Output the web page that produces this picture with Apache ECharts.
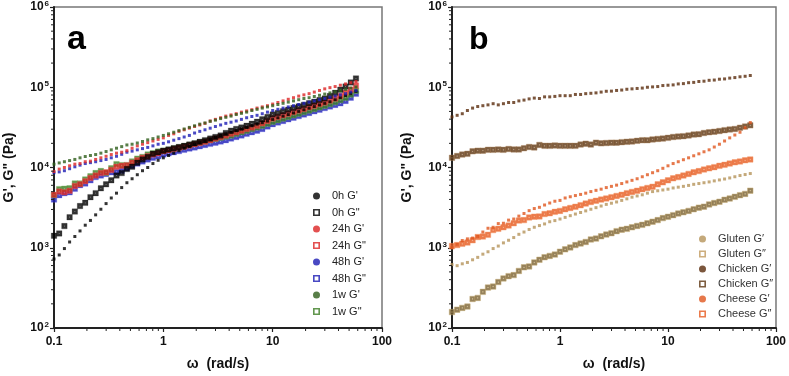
<!DOCTYPE html>
<html>
<head>
<meta charset="utf-8">
<script src="https://cdn.jsdelivr.net/npm/echarts@6/dist/echarts.min.js"></script>
<style>
  html, body { margin: 0; padding: 0; background: #fff; }
  #chart { width: 789px; height: 376px; }
</style>
</head>
<body>
<div id="chart"></div>
<script>
// angular frequency ω (rad/s), 21 points per decade
const omega = [
  0.1, 0.1116, 0.1245, 0.1389, 0.1551, 0.1730, 0.1931, 0.2154, 0.2404, 0.2683,
  0.2994, 0.3341, 0.3728, 0.4160, 0.4642, 0.5179, 0.5780, 0.6449, 0.7197, 0.8031,
  0.8962, 1.0, 1.116, 1.245, 1.389, 1.551, 1.730, 1.931, 2.154, 2.404,
  2.683, 2.994, 3.341, 3.728, 4.160, 4.642, 5.179, 5.780, 6.449, 7.197,
  8.031, 8.962, 10.0, 11.16, 12.45, 13.89, 15.51, 17.30, 19.31, 21.54,
  24.04, 26.83, 29.94, 33.41, 37.28, 41.60, 46.42, 51.79, 57.80
];

// ---- panel a (Pa) ----
const h0Gp = [
  724, 813, 977, 1180, 1380, 1620, 1910, 2190, 2570, 3020,
  3550, 4170, 4790, 5620, 6460, 7240, 8130, 9120, 10000, 11200,
  12300, 13200, 14100, 15100, 16200, 17400, 18200, 19500, 20400, 21400,
  22400, 23700, 25100, 26300, 27500, 28800, 30200, 31600, 33100, 34700,
  36300, 38000, 39800, 41700, 43700, 45700, 47900, 50100, 52500, 55000,
  57500, 60300, 63100, 66100, 70000, 74100, 78500, 83200, 89100
];
const h0Gpp = [
  1410, 1510, 1860, 2400, 2820, 3310, 3630, 4270, 4790, 5500,
  6170, 6920, 7940, 8510, 9550, 10200, 11500, 12600, 13500, 14800,
  15500, 16200, 16800, 17400, 18000, 18600, 19300, 20000, 20900, 21900,
  22900, 24000, 25100, 26900, 28800, 30200, 31600, 33100, 35100, 37200,
  39800, 42700, 45700, 47900, 50100, 52500, 55000, 57500, 60300, 63100,
  66100, 69200, 72400, 77600, 85100, 93300, 102000, 115000, 129000
];
const h24Gp = [
  8910, 9550, 10000, 10500, 11000, 11200, 11800, 12000, 12600, 13200,
  13800, 14500, 15100, 15500, 16200, 17400, 18600, 19500, 20400, 21400,
  22400, 23400, 25100, 26300, 28200, 29500, 30900, 32400, 33900, 35500,
  38000, 39800, 41700, 43700, 45200, 46800, 49000, 50700, 52500, 55000,
  56900, 58900, 61700, 64600, 67600, 70800, 74100, 77600, 80400, 83200,
  87100, 91200, 95500, 98900, 102000, 106000, 110000, 114000, 118000
];
const h24Gpp = [
  4570, 5010, 4900, 5130, 5890, 6170, 6760, 7410, 7940, 8510,
  8710, 9330, 10200, 10500, 10700, 11500, 12300, 13200, 13800, 14500,
  15100, 15900, 16400, 17000, 17600, 18200, 18800, 19500, 20200, 20900,
  21900, 22900, 24000, 25100, 26300, 27500, 28800, 30200, 31600, 33100,
  35500, 38000, 40700, 42700, 44700, 46800, 49000, 51300, 53700, 56200,
  58900, 61700, 64600, 68400, 72400, 77600, 85100, 93300, 105000
];
const h48Gp = [
  8610, 8810, 9120, 9660, 10200, 10700, 11200, 11500, 11800, 12200,
  12600, 13200, 13800, 14600, 15500, 16000, 16600, 17200, 17800, 18600,
  19500, 20000, 20900, 21900, 22900, 24000, 25100, 26900, 28200, 29500,
  30900, 32400, 33900, 35500, 36700, 38000, 39800, 41700, 43200, 44700,
  46800, 49000, 51300, 53100, 55000, 56900, 58900, 61000, 63100, 65300,
  67600, 70000, 72400, 75000, 77600, 80400, 83200, 87100, 91200
];
const h48Gpp = [
  3980, 4520, 4790, 4900, 5430, 6030, 6310, 6920, 7590, 7940,
  8320, 8710, 8810, 9120, 9770, 10500, 11200, 11900, 12600, 13200,
  13800, 14500, 15000, 15500, 16000, 16600, 17200, 17800, 18400, 19100,
  19700, 20400, 21100, 21900, 22900, 24000, 25100, 26300, 27500, 28800,
  30200, 32400, 34700, 36300, 38000, 39800, 41700, 43700, 45700, 47900,
  50100, 52500, 55000, 57500, 60300, 63100, 67600, 74100, 83200
];
const w1Gp = [
  11000, 11400, 11800, 12200, 12600, 13200, 13700, 14100, 14500, 15100,
  15800, 16600, 17400, 18200, 19100, 19500, 20200, 21100, 22100, 22900,
  24000, 25100, 26300, 27500, 28800, 30200, 31600, 33100, 34700, 35900,
  37600, 38900, 40700, 42200, 43700, 45700, 47300, 49000, 51300, 53100,
  55000, 56900, 58900, 61000, 63100, 65300, 67600, 70000, 72400, 74100,
  76700, 79400, 82200, 85100, 88100, 91200, 94400, 97700, 101000
];
const w1Gpp = [
  4520, 5370, 5430, 5500, 6310, 6310, 7080, 7760, 8510, 9020,
  8610, 9770, 11000, 10700, 10700, 11900, 12900, 13500, 14500, 15100,
  15800, 16200, 16600, 17200, 17800, 18400, 19100, 19700, 20400, 21100,
  21900, 22700, 23400, 24300, 25100, 26300, 27500, 28800, 30200, 31600,
  33100, 35100, 37200, 38900, 40700, 42700, 44700, 46800, 49000, 51300,
  53700, 56200, 58900, 61700, 65300, 69200, 74100, 81300, 90200
];

// ---- panel b (Pa) ----
const glutenGp = [
  617, 598, 631, 656, 708, 759, 832, 891, 977, 1050,
  1150, 1240, 1340, 1470, 1570, 1690, 1800, 1890, 1980, 2110,
  2180, 2280, 2390, 2510, 2630, 2750, 2880, 3020, 3160, 3310,
  3470, 3590, 3720, 3890, 4070, 4270, 4420, 4570, 4790, 5010,
  5130, 5250, 5370, 5560, 5690, 5820, 5980, 6170, 6310, 6460,
  6610, 6810, 7000, 7190, 7410, 7670, 7940, 8170, 8410
];
const glutenGpp = [
  158, 169, 178, 185, 230, 237, 282, 319, 328, 374,
  415, 443, 456, 514, 570, 586, 656, 708, 762, 791,
  822, 893, 955, 1010, 1080, 1130, 1180, 1270, 1300, 1390,
  1460, 1520, 1610, 1680, 1720, 1800, 1870, 1930, 2020, 2110,
  2210, 2340, 2430, 2550, 2670, 2770, 2880, 3020, 3160, 3250,
  3470, 3610, 3740, 3960, 4110, 4310, 4520, 4690, 5140
];
const chickenGp = [
  42700, 44700, 46800, 51300, 55000, 57500, 58900, 60300, 62400, 60300,
  62400, 64600, 64600, 67600, 69200, 71600, 73300, 72400, 75900, 75900,
  76900, 78500, 78500, 78500, 81300, 81300, 83200, 84100, 85100, 87100,
  89100, 89500, 91200, 92300, 94400, 95500, 96600, 97700, 100000, 101000,
  102000, 105000, 106000, 107000, 110000, 111000, 114000, 115000, 118000, 119000,
  122000, 123000, 126000, 127000, 130000, 132000, 135000, 137000, 140000
];
const chickenGpp = [
  13200, 13900, 14500, 14800, 15900, 16200, 16200, 16600, 16600, 16800,
  16600, 17000, 16800, 16800, 17400, 18000, 17800, 19100, 18600, 18600,
  18800, 18600, 18600, 18600, 18600, 19300, 19800, 19300, 20400, 20000,
  20200, 20400, 20400, 20700, 20900, 21100, 21500, 21900, 21900, 22400,
  22700, 22900, 23400, 24000, 24300, 24600, 25100, 25700, 26000, 26900,
  27500, 27900, 28500, 29200, 29800, 30200, 31300, 32400, 33500
];
const cheeseGp = [
  1000, 1100, 1230, 1290, 1320, 1380, 1570, 1750, 1800, 2000,
  2020, 2210, 2280, 2480, 2670, 2900, 3080, 3190, 3410, 3610,
  3800, 3890, 4170, 4320, 4470, 4620, 4790, 5010, 5190, 5370,
  5620, 5820, 6030, 6310, 6610, 6920, 7240, 7670, 8130, 8610,
  9120, 9770, 10500, 11200, 11800, 12500, 13200, 14000, 14800, 15700,
  16600, 18000, 19500, 21400, 23400, 25400, 27500, 31300, 36300
];
const cheeseGpp = [
  1050, 1080, 1120, 1160, 1240, 1360, 1380, 1450, 1660, 1720,
  1800, 1890, 2020, 2180, 2210, 2390, 2440, 2460, 2630, 2690,
  2800, 2880, 3020, 3130, 3240, 3390, 3550, 3720, 3850, 3980,
  4120, 4270, 4420, 4570, 4790, 4960, 5130, 5370, 5560, 5750,
  6170, 6530, 6920, 7330, 7590, 7940, 8320, 8710, 9020, 9440,
  9770, 10100, 10500, 10800, 11200, 11600, 11900, 12300, 12600
];

// minor tick positions on the log axes
const xMinor = [0.2, 0.3, 0.4, 0.5, 0.6, 0.7, 0.8, 0.9, 2, 3, 4, 5, 6, 7, 8, 9, 20, 30, 40, 50, 60, 70, 80, 90];
const yMinor = [200, 300, 400, 500, 600, 700, 800, 900, 2000, 3000, 4000, 5000, 6000, 7000, 8000, 9000,
  20000, 30000, 40000, 50000, 60000, 70000, 80000, 90000, 200000, 300000, 400000, 500000, 600000, 700000, 800000, 900000];

const FONT = 'Liberation Sans, Arial, sans-serif';
const SQUARE = 'path://M0,0H10V10H0Z M4.3,4.3V5.7H5.7V4.3Z';
const OPEN_SQUARE = 'path://M0,0H10V10H0Z M2.3,2.3V7.7H7.7V2.3Z';

const chart = echarts.init(document.getElementById('chart'));

function pairs(vals) {
  return omega.map((w, i) => [w, vals[i]]);
}

// G' : small dots
function dots(name, vals, color, k) {
  return {
    name, type: 'scatter', xAxisIndex: k, yAxisIndex: k,
    data: pairs(vals), symbol: 'rect', symbolSize: 3,
    itemStyle: { color }, z: 3
  };
}

// G'' : squares with a pale halo
function squares(name, vals, color, halo, k) {
  return {
    name, type: 'scatter', xAxisIndex: k, yAxisIndex: k,
    data: pairs(vals), symbol: SQUARE, symbolSize: 5.5,
    itemStyle: { color, borderColor: halo, borderWidth: 1 }, z: 2
  };
}

function minorTicks(k) {
  const draw = (p, api) => {
    const pt = api.coord([api.value(0), api.value(1)]);
    const horiz = api.value(2) === 1;
    return {
      type: 'line',
      shape: horiz
        ? { x1: pt[0] - 3, y1: pt[1], x2: pt[0], y2: pt[1] }
        : { x1: pt[0], y1: pt[1], x2: pt[0], y2: pt[1] + 3 },
      style: { stroke: '#222', lineWidth: 1 }
    };
  };
  return {
    type: 'custom', xAxisIndex: k, yAxisIndex: k, silent: true, clip: false, z: 5,
    renderItem: draw,
    data: xMinor.map(v => [v, 100, 0]).concat(yMinor.map(v => [0.1, v, 1]))
  };
}

function xAxis(k) {
  return {
    type: 'log', logBase: 10, min: 0.1, max: 100, gridIndex: k,
    name: 'ω  (rad/s)', nameLocation: 'middle', nameGap: 29,
    nameTextStyle: { fontFamily: FONT, fontWeight: 'bold', fontSize: 14, color: '#111' },
    axisLine: { show: true, onZero: false, lineStyle: { color: '#222', width: 2 } },
    axisTick: { show: true, inside: false, length: 4, lineStyle: { color: '#222', width: 1.2 } },
    axisLabel: {
      margin: 8, fontFamily: FONT, fontWeight: 'bold', fontSize: 12, color: '#111',
      formatter: v => (v < 0.5 ? '0.1' : String(Math.round(v)))
    },
    splitLine: { show: false }
  };
}

function yAxis(k) {
  return {
    type: 'log', logBase: 10, min: 100, max: 1000000, gridIndex: k,
    name: 'G\', G" (Pa)', nameLocation: 'middle', nameGap: 38,
    nameTextStyle: { fontFamily: FONT, fontWeight: 'bold', fontSize: 14, color: '#111' },
    axisLine: { show: true, onZero: false, lineStyle: { color: '#222', width: 2 } },
    axisTick: { show: true, inside: false, length: 4, lineStyle: { color: '#222', width: 1.2 } },
    axisLabel: {
      margin: 5,
      formatter: v => '{b|10}{s|' + Math.round(Math.log10(v)) + '}',
      rich: {
        b: { fontFamily: FONT, fontWeight: 'bold', fontSize: 12, color: '#111', lineHeight: 14 },
        s: { fontFamily: FONT, fontWeight: 'bold', fontSize: 8, color: '#111', lineHeight: 8, verticalAlign: 'top', padding: [0, 0, 0, 1] }
      }
    },
    splitLine: { show: false }
  };
}

const legendText = { fontFamily: FONT, fontSize: 11, color: '#222', lineHeight: 14, padding: [0, 0, 0, 7] };

const option = {
  backgroundColor: '#fff',
  animation: false,
  grid: [
    { left: 54, top: 5, width: 328, height: 328, show: true, borderColor: '#777', borderWidth: 1.5 },
    { left: 452, top: 5, width: 327, height: 328, show: true, borderColor: '#777', borderWidth: 1.5 }
  ],
  xAxis: [xAxis(0), xAxis(1)],
  yAxis: [yAxis(0), yAxis(1)],
  legend: [
    {
      orient: 'vertical', left: 313, top: 189, padding: 0, itemGap: 2.5, itemWidth: 7, itemHeight: 7,
      textStyle: legendText, itemStyle: { borderWidth: 0 }, selectedMode: false,
      data: [
        { name: "0h G'", icon: 'circle' }, { name: '0h G"', icon: OPEN_SQUARE },
        { name: "24h G'", icon: 'circle' }, { name: '24h G"', icon: OPEN_SQUARE },
        { name: "48h G'", icon: 'circle' }, { name: '48h G"', icon: OPEN_SQUARE },
        { name: "1w G'", icon: 'circle' }, { name: '1w G"', icon: OPEN_SQUARE }
      ]
    },
    {
      orient: 'vertical', left: 699, top: 232, padding: 0, itemGap: 1, itemWidth: 7, itemHeight: 7,
      textStyle: Object.assign({}, legendText, { color: '#333', padding: [0, 0, 0, 7] }),
      itemStyle: { borderWidth: 0 }, selectedMode: false,
      data: [
        { name: 'Gluten G′', icon: 'circle' },
        { name: 'Gluten G″', icon: OPEN_SQUARE, itemStyle: { color: '#c09a5e' } },
        { name: 'Chicken G′', icon: 'circle' },
        { name: 'Chicken G″', icon: OPEN_SQUARE },
        { name: 'Cheese G′', icon: 'circle' },
        { name: 'Cheese G″', icon: OPEN_SQUARE }
      ]
    }
  ],
  graphic: [
    { type: 'text', left: 67, top: 23, style: { text: 'a', font: 'bold 34px ' + FONT, fill: '#000' } },
    { type: 'text', left: 469, top: 24, style: { text: 'b', font: 'bold 32px ' + FONT, fill: '#000' } }
  ],
  series: [
    dots("0h G'", h0Gp, '#000000', 0),
    squares('48h G"', h48Gpp, '#1c1cb4', 'rgba(90,90,230,0.35)', 0),
    squares('1w G"', w1Gpp, '#3b7d23', 'rgba(110,170,80,0.45)', 0),
    squares('24h G"', h24Gpp, '#dc2424', 'rgba(235,110,110,0.4)', 0),
    squares('0h G"', h0Gpp, '#000000', 'rgba(0,0,0,0.25)', 0),
    dots("48h G'", h48Gp, '#1c1cb4', 0),
    dots("24h G'", h24Gp, '#dc2424', 0),
    dots("1w G'", w1Gp, '#2e5e1a', 0),

    squares('Gluten G″', glutenGpp, '#7a6232', 'rgba(200,175,120,0.6)', 1),
    dots('Gluten G′', glutenGp, '#b5935a', 1),
    squares('Chicken G″', chickenGpp, '#5e3612', 'rgba(170,130,90,0.5)', 1),
    dots('Chicken G′', chickenGp, '#5a2c0c', 1),
    squares('Cheese G″', cheeseGpp, '#e65a1f', 'rgba(245,150,100,0.5)', 1),
    dots('Cheese G′', cheeseGp, '#e0561e', 1),

    minorTicks(0),
    minorTicks(1)
  ]
};

chart.setOption(option);
</script>
</body>
</html>
